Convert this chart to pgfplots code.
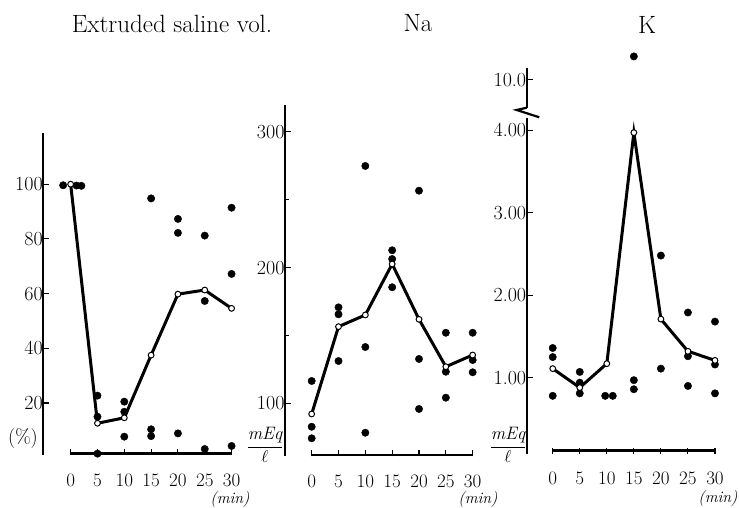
\documentclass[border=0pt]{standalone}
\usepackage{fontspec}
\usepackage{pgfplots}
\pgfplotsset{compat=1.18}
\begin{document}
\begin{tikzpicture}
\useasboundingbox (0pt,0pt) rectangle (739pt,508pt);
\pgfplotsset{
  panel/.style={
    scale only axis, anchor=south west, clip=false,
    axis y line*=left, axis x line*=bottom,
    x axis line style={draw=none},
    y axis line style={line width=2.3pt},
    tick align=inside, major tick length=6pt, minor tick length=4pt,
    tick style={black, line width=1.1pt},
    xtick={0,5,10,15,20,25,30},
    xticklabel style={font=\fontsize{19}{19}\selectfont, yshift=-15pt},
    yticklabel style={font=\fontsize{20}{20}\selectfont, xshift=3pt},
    /pgf/number format/assume math mode=true,
  },
  dots/.style={only marks, mark=*, mark size=3.7pt, black},
  mean/.style={black, line width=3pt, mark=*, mark size=2.9pt,
    mark options={fill=white, draw=black, line width=1pt}},
}
% ---------------- Panel 1: Extruded saline volume
\begin{axis}[panel, at={(43.3pt,53pt)}, width=199pt, height=321.7pt,
  xmin=-5.1, xmax=32, ymin=1, ymax=118.6, ytick={20,40,60,80,100}]
\draw[line width=2.5pt] (axis cs:0,1.5) -- (axis cs:30,1.5);
\addplot[dots] coordinates {
 (-1.4,99.6) (1.1,99.5) (2.0,99.4)
 (5,22.7) (5,15) (5,1.5)
 (10,20.5) (10,16.8) (10,7.7)
 (15,94.8) (15,10.4) (15,7.9)
 (20,87.3) (20,82.2) (20,8.9)
 (25,81.2) (25,57.3) (25,3.2)
 (30,91.4) (30,67.2) (30,4.3)};
\addplot[mean] coordinates {
 (0,100) (5,12.6) (10,14.6) (15,37.5) (20,59.8) (25,61.3) (30,54.6)};
\end{axis}
% ---------------- Panel 2: Na
\begin{axis}[panel, at={(285pt,51.5pt)}, width=198.4pt, height=351.8pt,
  xmin=-4.97, xmax=32, ymin=61, ymax=320, ytick={100,200,300},
  minor ytick={150,250}]
\draw[line width=2.5pt] (axis cs:0,62) -- (axis cs:30,62);
\addplot[dots] coordinates {
 (0,116.6) (0,82.9) (0,74.4)
 (5,170.8) (5,165.7) (5,131.3)
 (10,274.9) (10,141.6) (10,78.5)
 (15,212.8) (15,206.4) (15,185.6)
 (20,256.7) (20,132.8) (20,96)
 (25,152.1) (25,123.4) (25,104.3)
 (30,152.1) (30,132) (30,123)};
\addplot[mean] coordinates {
 (0,92.3) (5,156.6) (10,165.2) (15,202.7) (20,162) (25,127.1) (30,135.7)};
\end{axis}
% ---------------- Panel 3: K (lower part)
\begin{axis}[panel, at={(526.7pt,54.4pt)}, width=199.1pt, height=335.8pt,
  xmin=-4.81, xmax=32, ymin=0.08, ymax=4.15, ytick={1,2,3,4},
  yticklabels={1.00,2.00,3.00,4.00}]
\draw[line width=2.5pt] (axis cs:0,0.12) -- (axis cs:30,0.12);
\addplot[dots] coordinates {
 (0,1.36) (0,1.25) (0,0.78)
 (5,1.07) (5,0.94) (5,0.81)
 (9.7,0.78) (11.1,0.78)
 (15,0.97) (15,0.86)
 (20,2.48) (20,1.11)
 (25,1.79) (25,1.26) (25,0.90)
 (30,1.68) (30,1.16) (30,0.81)};
\addplot[mean] coordinates {
 (0,1.11) (5,0.88) (10,1.17) (15,3.97) (20,1.71) (25,1.32) (30,1.21)};
\end{axis}
% ---------------- Panel 3: K (upper part, above the axis break)
\begin{axis}[panel, at={(526.7pt,400.3pt)}, width=199.1pt, height=39.7pt,
  xmin=-4.81, xmax=32, ymin=9.66, ymax=10.14, axis x line=none,
  ytick={10}, yticklabels={10.0}]
\addplot[dots] coordinates {(15,10.28)};
\end{axis}
% axis break mark
\draw[line width=2.2pt] (526.7pt,400.3pt) -- (516.7pt,398pt) -- (539.3pt,390.7pt);
% titles
\node[font=\fontsize{25}{25}\selectfont] at (172pt,484.5pt) {Extruded saline vol.};
\node[font=\fontsize{25}{25}\selectfont] at (418pt,485pt) {Na};
\node[font=\fontsize{25}{25}\selectfont] at (647pt,483pt) {K};
% unit labels
\node[font=\fontsize{20}{20}\selectfont] at (23pt,69pt) {(\%)};
\node[font=\fontsize{18}{18}\selectfont] at (265pt,63pt) {$\displaystyle\frac{\mathit{mEq}}{\ell}$};
\node[font=\fontsize{18}{18}\selectfont] at (508pt,63pt) {$\displaystyle\frac{\mathit{mEq}}{\ell}$};
\node[font=\fontsize{16}{16}\selectfont\itshape] at (230pt,8pt) {(min)};
\node[font=\fontsize{16}{16}\selectfont\itshape] at (478pt,8pt) {(min)};
\node[font=\fontsize{16}{16}\selectfont\itshape] at (718pt,9pt) {(min)};
\end{tikzpicture}
\end{document}
